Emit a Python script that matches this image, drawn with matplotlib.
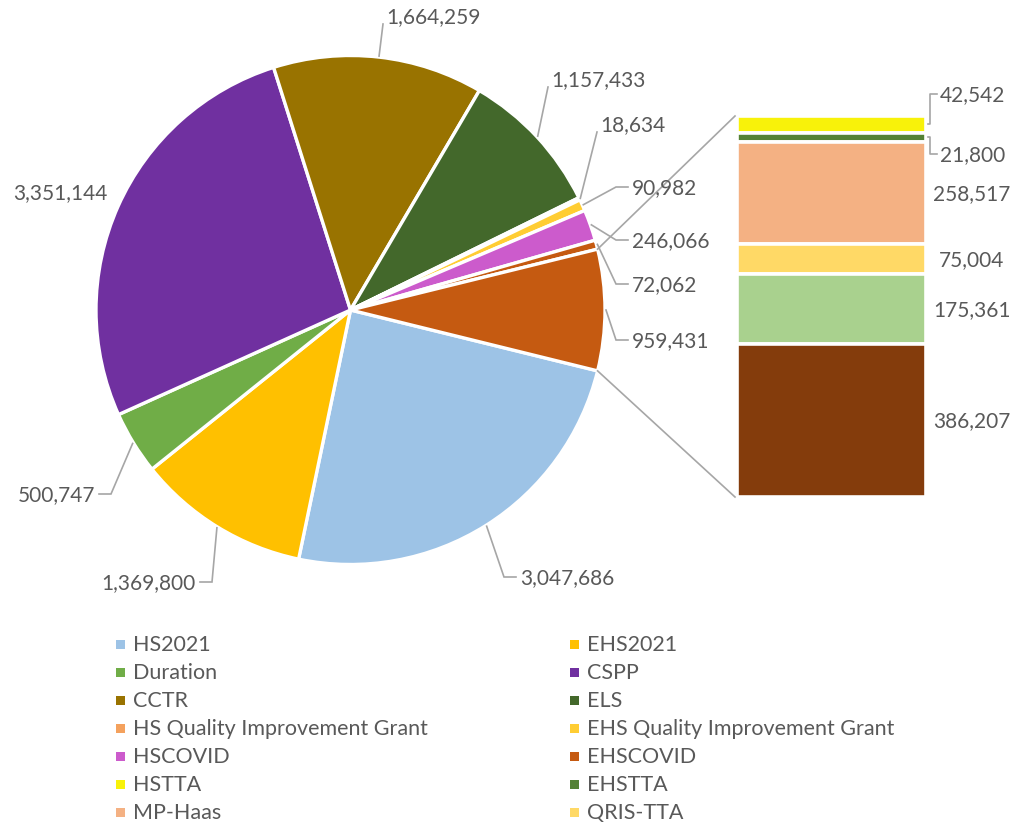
import matplotlib
matplotlib.use('Agg')
import matplotlib.pyplot as plt
from matplotlib.patches import Rectangle
import numpy as np

plt.rcParams['font.family'] = ['Lato', 'DejaVu Sans']

# --- data ---
pie_names = ['HS2021', 'EHS2021', 'Duration', 'CSPP', 'CCTR', 'ELS',
             'HS Quality Improvement Grant', 'EHS Quality Improvement Grant',
             'HSCOVID', 'EHSCOVID']
pie_values = [3047686, 1369800, 500747, 3351144, 1664259, 1157433,
              18634, 90982, 246066, 72062]
pie_colors = ['#9DC3E6', '#FFC000', '#70AD47', '#7030A0', '#997300', '#43682B',
              '#F4A15D', '#FFCD33', '#CC5BCC', '#C55A11']
other_color = '#C55A11'

# bar of pie, listed top to bottom
bar_names = ['HSTTA', 'EHSTTA', 'MP-Haas', 'QRIS-TTA']
bar_values = [42542, 21800, 258517, 75004, 175361, 386207]
bar_colors = ['#F8F20A', '#548235', '#F4B183', '#FFD966', '#A9D18E', '#843C0C']

legend_names = pie_names + bar_names
legend_colors = pie_colors + bar_colors[:4]

# --- layout (pixels, y down) ---
W, H = 1017, 828
TXT = '#595959'
LINE = '#A6A6A6'
FS = 15

fig = plt.figure(figsize=(W / 100, H / 100), dpi=100)
ax = fig.add_axes([0, 0, 1, 1])


def py(y):
    return H - y


cx, cy, rad = 350.5, 311, 254.5
other = sum(bar_values)
vals = pie_values + [other]
cols = pie_colors + [other_color]
start = -other / sum(vals) * 360 / 2

wedges, _ = ax.pie(vals, colors=cols, startangle=start, counterclock=False,
                   center=(cx, py(cy)), radius=rad,
                   wedgeprops=dict(edgecolor='white', linewidth=2.4))
ax.set_xlim(0, W)
ax.set_ylim(0, H)
ax.set_aspect('equal')
ax.axis('off')


def edge_point(angle, r=rad):
    a = np.deg2rad(angle)
    return cx + r * np.cos(a), cy - r * np.sin(a)


# label text position, alignment, leader kind
pie_label_pos = [(520, 578, 'left', 'side'), (196, 583, 'right', 'side'),
                 (95, 495, 'right', 'side'), (108, 193, 'right', None),
                 (386, 17, 'left', 'top'), (551, 80, 'left', 'top'),
                 (600, 125, 'left', 'top'), (632, 188, 'left', 'side'),
                 (632, 241, 'left', 'side'), (632, 285, 'left', 'side'),
                 (632, 341, 'left', 'side')]

for w, v, (tx, ty, ha, kind) in zip(wedges, vals, pie_label_pos):
    mid = (w.theta1 + w.theta2) / 2
    ex, ey = edge_point(mid, rad + 1)
    ax.text(tx, py(ty), f'{v:,}', ha=ha, va='center', color=TXT, fontsize=FS)
    if kind == 'side':
        d = -1 if ha == 'left' else 1
        pts = [(ex, ey), (tx + d * 16, ty), (tx + d * 4, ty)]
    elif kind == 'top':
        pts = [(ex, ey), (tx - 3, ty + 8)]
    else:
        continue
    ax.plot([p[0] for p in pts], [py(p[1]) for p in pts], color=LINE, lw=1.2,
            solid_joinstyle='miter')

# --- bar of pie ---
bx0, bx1, by0, by1 = 737, 926, 117, 498
scale = (by1 - by0) / other
heights = np.array(bar_values) * scale
tops = by0 + np.concatenate([[0], np.cumsum(heights)[:-1]])
ax.bar([(bx0 + bx1) / 2] * len(heights), heights, bottom=py(tops + heights),
       width=bx1 - bx0, color=bar_colors, edgecolor='white', linewidth=2.6)

# connector lines between pie and bar
o = wedges[-1]
for ang, by in [(o.theta2, by0), (o.theta1, by1)]:
    ex, ey = edge_point(ang)
    ax.plot([ex, bx0 - 2], [py(ey), py(by)], color=LINE, lw=1.2)

mids = tops + heights / 2
bar_label_pos = [(940, 95), (940, 155), None, None, None, None]
for v, m, pos in zip(bar_values, mids, bar_label_pos):
    if pos is None:
        ax.text(972, py(m), f'{v:,}', ha='center', va='center', color=TXT, fontsize=FS)
    else:
        tx, ty = pos
        ax.text(tx, py(ty), f'{v:,}', ha='left', va='center', color=TXT, fontsize=FS)
        xs = [bx1 + 2, bx1 + 4, bx1 + 4, tx - 3]
        ys = [m, m, ty, ty]
        ax.plot(xs, [py(y) for y in ys], color=LINE, lw=1.2)

# --- legend (two columns, row-major like Excel) ---
for i, (name, c) in enumerate(zip(legend_names, legend_colors)):
    lx = 116 if i % 2 == 0 else 570
    ly = 645 + (i // 2) * 28
    ax.add_patch(Rectangle((lx, py(ly) - 4.5), 9, 9, facecolor=c, edgecolor='none'))
    ax.text(lx + 17, py(ly), name, ha='left', va='center', color=TXT, fontsize=15.5)

fig.savefig('out.png', dpi=100, facecolor='white')
